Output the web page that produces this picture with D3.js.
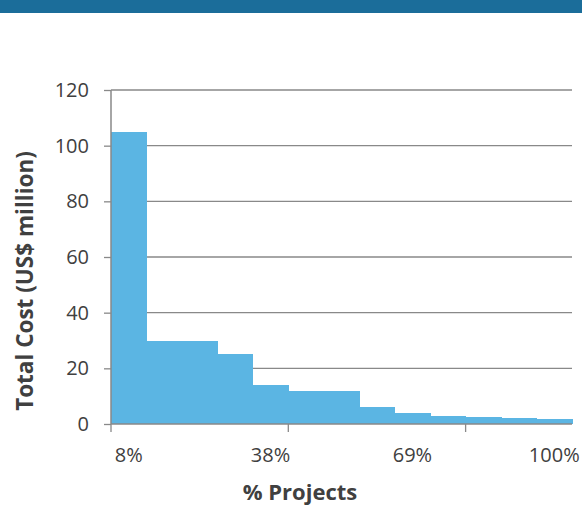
<!DOCTYPE html>
<html>
<head>
<meta charset="utf-8">
<script src="https://cdn.jsdelivr.net/npm/d3@7"></script>
<style>
  html, body { margin: 0; padding: 0; background: #fff; }
  svg { display: block; font-family: "Open Sans", sans-serif; }
</style>
</head>
<body>
<svg id="chart" width="582" height="506"></svg>
<script>
// Share of projects (cumulative) for each cost bucket
const projectShare = ["8%", "15%", "23%", "31%", "38%", "46%", "54%", "62%", "69%", "77%", "85%", "92%", "100%"];
// Total cost per bucket, US$ million
const totalCost = [105, 30, 30, 25, 14, 12, 12, 6, 3.8, 2.7, 2.5, 2, 1.9];
// Value axis ticks
const costTicks = [0, 20, 40, 60, 80, 100, 120];
// Category label and tick-mark intervals
const labelEvery = 4;
const tickEvery = 5;

const svg = d3.select("#chart");
const W = 582;
const plot = { left: 111, right: 572, top: 90, bottom: 424 };
const axisColor = "#898989";
const textColor = "#404040";
const barColor = "#5bb5e3";

// Header band
svg.append("rect").attr("x", 0).attr("y", 0).attr("width", W).attr("height", 13)
  .attr("fill", "#1b6d9a");

const x = d3.scaleBand().domain(projectShare).range([plot.left, plot.right]).padding(0);
const y = d3.scaleLinear().domain([0, 120]).range([plot.bottom, plot.top]);

// Horizontal gridlines
svg.append("g").selectAll("line").data(costTicks.filter(d => d > 0)).join("line")
  .attr("x1", plot.left).attr("x2", plot.right)
  .attr("y1", d => y(d)).attr("y2", d => y(d))
  .attr("stroke", axisColor).attr("stroke-width", 1.3);

// Columns, no gap between neighbours
svg.append("g").attr("shape-rendering", "crispEdges")
  .selectAll("rect").data(totalCost).join("rect")
  .attr("x", (d, i) => x(projectShare[i]))
  .attr("width", x.bandwidth() + 0.5)
  .attr("y", d => y(d))
  .attr("height", d => y(0) - y(d))
  .attr("fill", barColor);

// Value axis
const yAxis = svg.append("g").attr("transform", `translate(${plot.left},0)`)
  .call(d3.axisLeft(y).tickValues(costTicks).tickSize(7).tickPadding(15));
yAxis.select(".domain").attr("stroke", axisColor).attr("stroke-width", 1.5)
  .attr("d", `M0,${plot.top}V${plot.bottom}`);
yAxis.selectAll(".tick line").attr("stroke", axisColor).attr("stroke-width", 1.3);
yAxis.selectAll(".tick text").attr("fill", textColor)
  .style("font-size", "20px").style("font-family", "'Open Sans', sans-serif");

// Category axis line and tick marks at bucket boundaries
const xg = svg.append("g");
xg.append("line").attr("x1", plot.left).attr("x2", plot.right)
  .attr("y1", y(0)).attr("y2", y(0))
  .attr("stroke", axisColor).attr("stroke-width", 1.5);
xg.selectAll("line.tk").data(projectShare.filter((d, i) => i % tickEvery === 0)).join("line")
  .attr("class", "tk")
  .attr("x1", d => x(d)).attr("x2", d => x(d))
  .attr("y1", y(0)).attr("y2", y(0) + 8)
  .attr("stroke", axisColor).attr("stroke-width", 1.3);
xg.selectAll("text").data(projectShare.filter((d, i) => i % labelEvery === 0)).join("text")
  .attr("x", d => x(d) + x.bandwidth() / 2)
  .attr("y", 462)
  .attr("text-anchor", "middle")
  .attr("fill", textColor)
  .style("font-size", "20px")
  .text(d => d);

// Axis titles
svg.append("text")
  .attr("x", 300).attr("y", 500)
  .attr("text-anchor", "middle")
  .attr("fill", textColor)
  .style("font-size", "22px").style("font-weight", "bold")
  .text("% Projects");

svg.append("text")
  .attr("transform", "translate(33,281) rotate(-90)")
  .attr("text-anchor", "middle")
  .attr("fill", textColor)
  .style("font-size", "22.5px").style("font-weight", "bold")
  .text("Total Cost (US$ million)");
</script>
</body>
</html>
